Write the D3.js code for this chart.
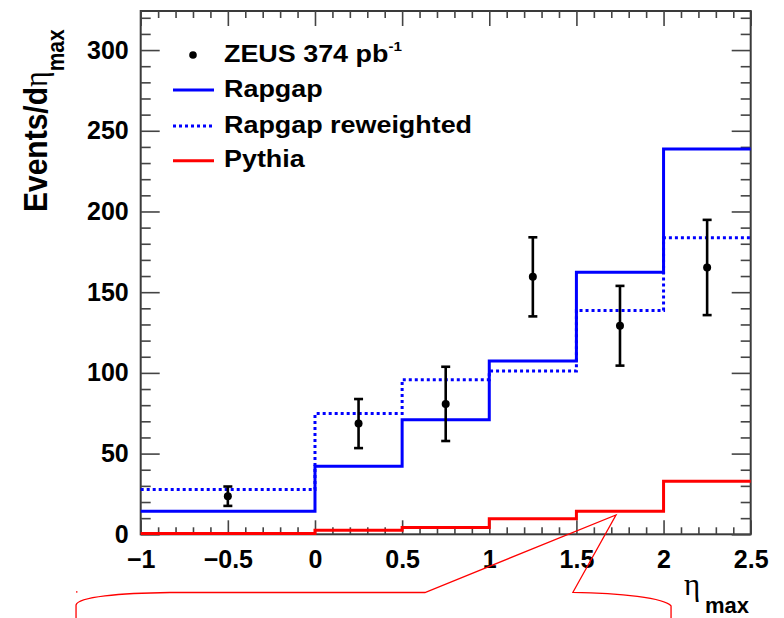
<!DOCTYPE html>
<html><head><meta charset="utf-8">
<script src="https://cdn.jsdelivr.net/npm/d3@7"></script>
<style>
html,body{margin:0;padding:0;background:#fff;}
svg{display:block;}
text{font-family:"Liberation Sans",Arial,Helvetica,sans-serif;}
</style></head>
<body>
<svg id="chart" width="784" height="618"></svg>
<script>
// ---- data ----
const binEdges = [-1, 0, 0.5, 1, 1.5, 2, 2.5];
const rapgap = [14.3, 42.2, 71.0, 107.4, 162.3, 238.7];
const rapgapReweighted = [27.7, 74.8, 95.8, 101.2, 138.7, 183.7];
const pythia = [0.5, 2.5, 4.2, 9.7, 14.3, 32.9];
const zeusX = [-0.5, 0.25, 0.75, 1.25, 1.75, 2.25];
const zeusY = [23.6, 68.6, 80.8, 159.5, 129.2, 165.3];
const zeusErr = [6.0, 15.2, 23.0, 24.5, 24.7, 29.5];
const xTicks = [-1, -0.5, 0, 0.5, 1, 1.5, 2, 2.5];
const yTicks = [0, 50, 100, 150, 200, 250, 300];
const legendLabels = ["ZEUS 374 pb", "Rapgap", "Rapgap reweighted", "Pythia"];

// callout annotation outline (in data units: eta, events)
const calloutShape = {
  p0: [-1.371, -51.8], p1: [-1.371, -43.8], c1: [-1.360, -38.8], c2: [-1.119, -36.4],
  p2: [-0.832, -36.05], p3: [0.631, -36.05], p4: [1.727, 11.96], p5: [1.480, -35.93],
  c3: [1.750, -36.36], c4: [2.008, -39.46], p6: [2.043, -44.4], p7: [2.043, -51.8],
  dot: [-1.367, -35.7]
};

const svg = d3.select("#chart");
const L = 140.7, R = 750.7, T = 11, B = 534.3;
const x = d3.scaleLinear().domain([-1, 2.5]).range([L, R]);
const y = d3.scaleLinear().domain([0, 324.2]).range([B, T]);

const blue = "#0000ff", red = "#ff0000";

// frame
svg.append("rect").attr("x", L).attr("y", T).attr("width", R - L).attr("height", B - T)
  .attr("fill", "none").attr("stroke", "#3a3a3a").attr("stroke-width", 2);

const xMinor = d3.range(-1, 2.5001, 0.1).map(v => +v.toFixed(2)).filter(v => !xTicks.includes(v));
const yMinor = d3.range(0, 324, 10).filter(v => !yTicks.includes(v));
const tickCol = "#444";
const fontTick = "bold 25px 'Liberation Sans', Arial, sans-serif";

function styleAxis(g) {
  g.select(".domain").remove();
  g.selectAll(".tick line").attr("stroke", tickCol).attr("stroke-width", 1.6);
  g.selectAll(".tick text").style("font", fontTick).attr("fill", "#000");
}
// bottom
svg.append("g").attr("transform", `translate(0,${B})`)
  .call(d3.axisBottom(x).tickValues(xTicks).tickSize(-14).tickPadding(16).tickFormat(d3.format("~g")))
  .call(styleAxis);
svg.append("g").attr("transform", `translate(0,${B})`)
  .call(d3.axisBottom(x).tickValues(xMinor).tickSize(-7).tickFormat(""))
  .call(styleAxis);
// top
svg.append("g").attr("transform", `translate(0,${T})`)
  .call(d3.axisTop(x).tickValues(xTicks).tickSize(-15).tickFormat(""))
  .call(styleAxis);
svg.append("g").attr("transform", `translate(0,${T})`)
  .call(d3.axisTop(x).tickValues(xMinor).tickSize(-7).tickFormat(""))
  .call(styleAxis);
// left
svg.append("g").attr("transform", `translate(${L},0)`)
  .call(d3.axisLeft(y).tickValues(yTicks).tickSize(-19).tickPadding(12).tickFormat(d3.format("~g")))
  .call(styleAxis);
svg.append("g").attr("transform", `translate(${L},0)`)
  .call(d3.axisLeft(y).tickValues(yMinor).tickSize(-10).tickFormat(""))
  .call(styleAxis);
// right
svg.append("g").attr("transform", `translate(${R},0)`)
  .call(d3.axisRight(y).tickValues(yTicks).tickSize(-19).tickFormat(""))
  .call(styleAxis);
svg.append("g").attr("transform", `translate(${R},0)`)
  .call(d3.axisRight(y).tickValues(yMinor).tickSize(-10).tickFormat(""))
  .call(styleAxis);

// histograms
function stepPts(vals) {
  const pts = vals.map((v, i) => [binEdges[i], v]);
  pts.push([binEdges[binEdges.length - 1], vals[vals.length - 1]]);
  return pts;
}
const stepLine = d3.line().x(d => x(d[0])).y(d => y(d[1])).curve(d3.curveStepAfter);

svg.append("path").attr("d", stepLine(stepPts(rapgapReweighted)))
  .attr("fill", "none").attr("stroke", blue).attr("stroke-width", 3).attr("stroke-dasharray", "3,3");
svg.append("path").attr("d", stepLine(stepPts(rapgap)))
  .attr("fill", "none").attr("stroke", blue).attr("stroke-width", 3);
svg.append("path").attr("d", stepLine(stepPts(pythia)))
  .attr("fill", "none").attr("stroke", red).attr("stroke-width", 3);

// data points
const pts = zeusX.map((v, i) => ({x: v, y: zeusY[i], e: zeusErr[i]}));
const eg = svg.append("g");
eg.selectAll("line.err").data(pts).join("line").attr("class", "err")
  .attr("x1", d => x(d.x)).attr("x2", d => x(d.x))
  .attr("y1", d => y(d.y - d.e)).attr("y2", d => y(d.y + d.e))
  .attr("stroke", "#000").attr("stroke-width", 2.6);
eg.selectAll("line.capt").data(pts).join("line").attr("class", "capt")
  .attr("x1", d => x(d.x) - 4.5).attr("x2", d => x(d.x) + 4.5)
  .attr("y1", d => y(d.y + d.e)).attr("y2", d => y(d.y + d.e))
  .attr("stroke", "#000").attr("stroke-width", 2.6);
eg.selectAll("line.capb").data(pts).join("line").attr("class", "capb")
  .attr("x1", d => x(d.x) - 4.5).attr("x2", d => x(d.x) + 4.5)
  .attr("y1", d => y(d.y - d.e)).attr("y2", d => y(d.y - d.e))
  .attr("stroke", "#000").attr("stroke-width", 2.6);
eg.selectAll("circle").data(pts).join("circle")
  .attr("cx", d => x(d.x)).attr("cy", d => y(d.y)).attr("r", 4).attr("fill", "#000");

// legend
const leg = svg.append("g");
const rowY = [61.7, 96.7, 133.3, 167.3];
const symY = [55, 90, 126, 160.7];
leg.append("circle").attr("cx", 193).attr("cy", symY[0]).attr("r", 3.8).attr("fill", "#000");
leg.append("line").attr("x1", 173).attr("x2", 214).attr("y1", symY[1]).attr("y2", symY[1])
  .attr("stroke", blue).attr("stroke-width", 3);
leg.append("line").attr("x1", 173).attr("x2", 214).attr("y1", symY[2]).attr("y2", symY[2])
  .attr("stroke", blue).attr("stroke-width", 3).attr("stroke-dasharray", "3,3");
leg.append("line").attr("x1", 173).attr("x2", 214).attr("y1", symY[3]).attr("y2", symY[3])
  .attr("stroke", red).attr("stroke-width", 3);
legendLabels.forEach((lab, i) => {
  const g = leg.append("g").attr("transform", `translate(224,${rowY[i]}) scale(1.17,1)`);
  const t = g.append("text").attr("x", 0).attr("y", 0)
    .style("font", "bold 23px 'Liberation Sans', Arial, sans-serif").attr("fill", "#000");
  t.append("tspan").text(lab);
  if (i === 0) {
    t.append("tspan").attr("dy", -11).style("font-size", "13px").text("-1");
  }
});

// y axis title
const yt = svg.append("text").attr("transform", "translate(47,212) scale(1.1,1) rotate(-90)")
  .style("font", "bold 30px 'Liberation Sans', Arial, sans-serif").attr("fill", "#000");
yt.append("tspan").text("Events/d");
yt.append("tspan").style("font-family", "'Liberation Serif','DejaVu Serif',serif").style("font-weight", "normal").text("η");
yt.append("tspan").attr("dy", 15).style("font-size", "21px").text("max");

// x axis title
const xt = svg.append("text").attr("x", 684).attr("y", 595)
  .style("font", "normal 31px 'Liberation Serif','DejaVu Serif',serif").attr("fill", "#000");
xt.append("tspan").text("η");
xt.append("tspan").attr("x", 705).attr("y", 613)
  .style("font", "bold 22px 'Liberation Sans', Arial, sans-serif").text("max");

// callout annotation
const c = calloutShape, P = k => `${x(c[k][0])},${y(c[k][1])}`;
svg.append("path")
  .attr("d", `M${P("p0")}L${P("p1")}C${P("c1")} ${P("c2")} ${P("p2")}L${P("p3")}L${P("p4")}L${P("p5")}C${P("c3")} ${P("c4")} ${P("p6")}L${P("p7")}`)
  .attr("fill", "none").attr("stroke", red).attr("stroke-width", 1.3).attr("stroke-linejoin", "miter");
svg.append("rect").attr("x", x(c.dot[0]) - 0.7).attr("y", y(c.dot[1]) - 0.7)
  .attr("width", 1.4).attr("height", 1.4).attr("fill", red);
</script>
</body></html>
